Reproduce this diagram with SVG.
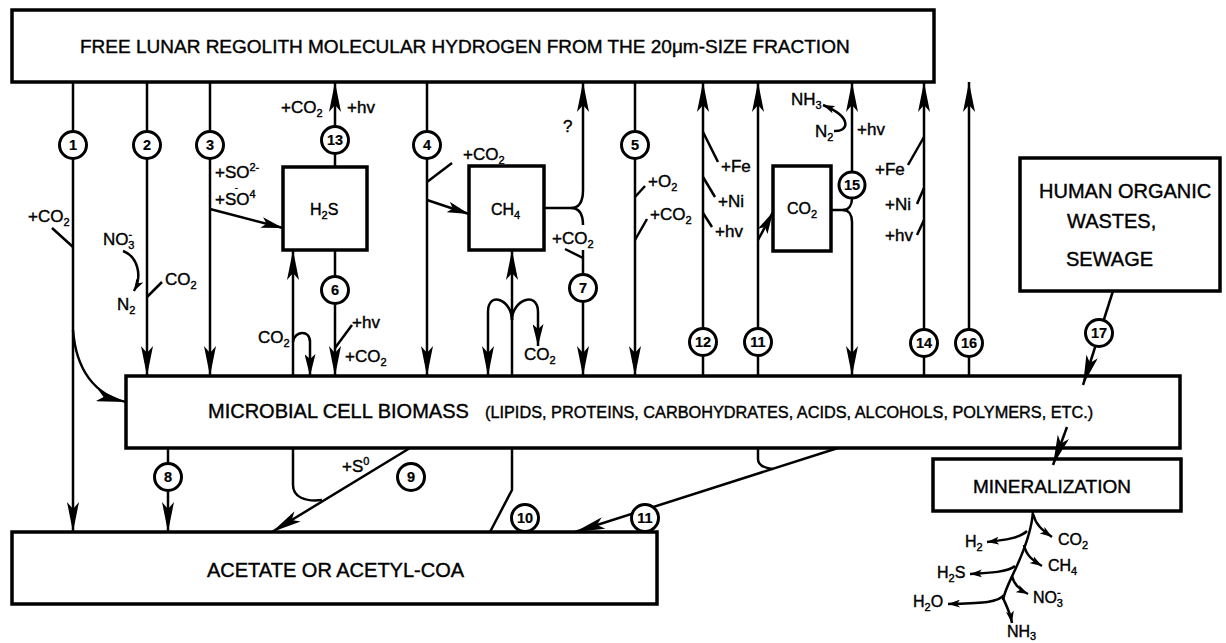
<svg xmlns="http://www.w3.org/2000/svg" width="1226" height="643" viewBox="0 0 1226 643">
<style>
text{font-family:"Liberation Sans",Arial,Helvetica,sans-serif;fill:#000;stroke:#000;stroke-width:0.4}
.box{fill:#fff;stroke:#000;stroke-width:3.5}
.ln{fill:none;stroke:#000;stroke-width:2.5}
.num circle{fill:#fff;stroke:#000;stroke-width:3}
.num text{font-size:14.5px;font-weight:bold;text-anchor:middle;dominant-baseline:central;stroke-width:0.2}
.lbl{font-size:17px}
.mlb{font-size:16px}
.big{font-size:20px}
.s{font-size:11px}
</style>
<defs>
<marker id="ah" viewBox="0 0 30 12" refX="30" refY="6" markerWidth="30" markerHeight="12" markerUnits="userSpaceOnUse" orient="auto"><path d="M0,0 L30,6 L0,12 L7,6 Z" fill="#000"/></marker>
<marker id="am" viewBox="0 0 22 11" refX="22" refY="5.5" markerWidth="22" markerHeight="11" markerUnits="userSpaceOnUse" orient="auto"><path d="M0,0 L22,5.5 L0,11 L5,5.5 Z" fill="#000"/></marker>
<marker id="as" viewBox="0 0 12 8" refX="12" refY="4" markerWidth="12" markerHeight="8" markerUnits="userSpaceOnUse" orient="auto"><path d="M0,0 L12,4 L0,8 L3,4 Z" fill="#000"/></marker>
</defs>

<g id="node-hydrogen"><rect class="box" x="12" y="10" width="922" height="72"/><text class="big" x="80" y="53" style="font-size:19px">FREE LUNAR REGOLITH MOLECULAR HYDROGEN FROM THE 20μm-SIZE FRACTION</text></g>
<g id="node-biomass"><rect class="box" x="126" y="376" width="1054" height="72"/><text class="big" x="208" y="418">MICROBIAL CELL BIOMASS</text><text x="485" y="418" style="font-size:16.3px">(LIPIDS, PROTEINS, CARBOHYDRATES, ACIDS, ALCOHOLS, POLYMERS, ETC.)</text></g>
<g id="node-acetate"><rect class="box" x="12" y="532" width="645" height="72"/><text class="big" x="207" y="577">ACETATE OR ACETYL-COA</text></g>
<g id="node-h2s"><rect class="box" x="283" y="167" width="84" height="83"/><text class="mlb" x="310" y="215">H<tspan class="s" dy="4">2</tspan><tspan dy="-4">S</tspan></text></g>
<g id="node-ch4"><rect class="box" x="469" y="166" width="75" height="84"/><text class="mlb" x="491" y="215">CH<tspan class="s" dy="4">4</tspan></text></g>
<g id="node-co2"><rect class="box" x="773" y="166" width="58" height="85"/><text class="mlb" x="787" y="214">CO<tspan class="s" dy="4">2</tspan></text></g>
<g id="node-wastes"><rect class="box" x="1020" y="158" width="200" height="133"/><text class="big" x="1039" y="198">HUMAN ORGANIC</text><text class="big" x="1067" y="228">WASTES,</text><text class="big" x="1066" y="266">SEWAGE</text></g>
<g id="node-mineralization"><rect class="box" x="933" y="459" width="248" height="52"/><text class="big" x="973" y="493" style="font-size:19px">MINERALIZATION</text></g>

<g id="connectors">
<path class="ln" d="M73,82 V532" marker-end="url(#ah)"/>
<path class="ln" d="M73,247 L52,228"/>
<path class="ln" d="M73,330 C76,370 95,395 126,402" marker-end="url(#ah)"/>
<path class="ln" d="M147,82 V376" marker-end="url(#ah)"/>
<path class="ln" d="M123,251 C137,256 143,275 134,291" marker-end="url(#as)"/>
<path class="ln" d="M147,297 L162,282"/>
<path class="ln" d="M210,82 V376" marker-end="url(#ah)"/>
<path class="ln" d="M210,209 L283,228" marker-end="url(#am)"/>
<path class="ln" d="M335,167 V82" marker-end="url(#ah)"/>
<path class="ln" d="M335,250 V376" marker-end="url(#ah)"/>
<path class="ln" d="M335,348 L352,325"/>
<path class="ln" d="M293,376 V250" marker-end="url(#ah)"/>
<path class="ln" d="M293,342 C294,331 310,329 310,342 V376" marker-end="url(#am)"/>
<path class="ln" d="M427,82 V376" marker-end="url(#ah)"/>
<path class="ln" d="M427,182 L452,163"/>
<path class="ln" d="M427,200 L469,214" marker-end="url(#am)"/>
<path class="ln" d="M544,208 H571 C580,208 583,201 583,190 V82" marker-end="url(#ah)"/>
<path class="ln" d="M571,208 C580,208 583,215 583,225"/>
<path class="ln" d="M583,250 V376" marker-end="url(#ah)"/>
<path class="ln" d="M583,258 L565,249"/>
<path class="ln" d="M512,376 V250" marker-end="url(#ah)"/>
<path class="ln" d="M512,320 C512,300 488,290 488,312 V376" marker-end="url(#ah)"/>
<path class="ln" d="M512,320 C512,300 538,290 538,312 V346" marker-end="url(#am)"/>
<path class="ln" d="M635,82 V376" marker-end="url(#ah)"/>
<path class="ln" d="M635,197 L645,186"/>
<path class="ln" d="M635,240 L647,219"/>
<path class="ln" d="M703,376 V82" marker-end="url(#ah)"/>
<path class="ln" d="M703,132 L718,162"/>
<path class="ln" d="M703,177 L715,197"/>
<path class="ln" d="M703,213 L712,227"/>
<path class="ln" d="M758,376 V82" marker-end="url(#ah)"/>
<path class="ln" d="M758,240 L773,212" marker-end="url(#am)"/>
<path class="ln" d="M831,210 H843 C849,210 852,205 852,198"/>
<path class="ln" d="M843,210 C849,210 852,215 852,222 V376" marker-end="url(#ah)"/>
<path class="ln" d="M852,171 V82" marker-end="url(#ah)"/>
<path class="ln" d="M834,131 C848,132 854,118 823,105" marker-end="url(#as)"/>
<path class="ln" d="M924,376 V82" marker-end="url(#ah)"/>
<path class="ln" d="M924,137 L908,165"/>
<path class="ln" d="M924,188 L917,204"/>
<path class="ln" d="M924,220 L917,235"/>
<path class="ln" d="M969,376 V82" marker-end="url(#ah)"/>
<path class="ln" d="M1113,291 L1083,385" marker-end="url(#ah)"/>
<path class="ln" d="M1067,427 L1053,465" marker-end="url(#ah)"/>
<path class="ln" d="M168,448 V532" marker-end="url(#ah)"/>
<path class="ln" d="M410,448 L272,532" marker-end="url(#ah)"/>
<path class="ln" d="M293,448 V485 C293,497 305,502 322,500"/>
<path class="ln" d="M512,448 V490 L490,532"/>
<path class="ln" d="M838,448 L575,532" marker-end="url(#ah)"/>
<path class="ln" d="M758,448 V459 C758,465 764,468 773,469"/>
<path class="ln" d="M1033,511 C1032,530 1022,555 1015,570 S1005,590 1003,600"/>
<path class="ln" d="M1033,514 C1036,525 1042,530 1052,537" marker-end="url(#as)"/>
<path class="ln" d="M1027,531 C1020,538 1005,540 987,542" marker-end="url(#as)"/>
<path class="ln" d="M1024,545 C1026,555 1032,560 1042,566" marker-end="url(#as)"/>
<path class="ln" d="M1015,566 C1008,572 990,573 970,574" marker-end="url(#as)"/>
<path class="ln" d="M1012,576 C1014,585 1020,590 1028,594" marker-end="url(#as)"/>
<path class="ln" d="M1004,595 C998,603 980,603 948,604" marker-end="url(#as)"/>
<path class="ln" d="M1003,598 C1006,605 1010,612 1012,623" marker-end="url(#as)"/>
</g>

<g id="connector-labels" class="lbl">
<text x="28" y="222">+CO<tspan class="s" dy="4">2</tspan></text>
<text x="103" y="245">NO<tspan class="s" dy="-7">-</tspan><tspan class="s" dx="-4" dy="11">3</tspan></text>
<text x="117" y="310">N<tspan class="s" dy="4">2</tspan></text>
<text x="165" y="285">CO<tspan class="s" dy="4">2</tspan></text>
<text x="215" y="178">+SO<tspan class="s" dy="-7">2-</tspan></text>
<text x="215" y="205"><tspan x="235" dy="-15" style="font-size:8px">-</tspan><tspan x="215" dy="15">+SO</tspan><tspan class="s" dy="-7">4</tspan></text>
<text x="281" y="113">+CO<tspan class="s" dy="4">2</tspan></text>
<text x="347" y="113">+hv</text>
<text x="258" y="343">CO<tspan class="s" dy="4">2</tspan></text>
<text x="352" y="328">+hv</text>
<text x="345" y="362">+CO<tspan class="s" dy="4">2</tspan></text>
<text x="463" y="160">+CO<tspan class="s" dy="4">2</tspan></text>
<text x="563" y="132">?</text>
<text x="552" y="244">+CO<tspan class="s" dy="4">2</tspan></text>
<text x="524" y="360">CO<tspan class="s" dy="4">2</tspan></text>
<text x="648" y="187">+O<tspan class="s" dy="4">2</tspan></text>
<text x="650" y="220">+CO<tspan class="s" dy="4">2</tspan></text>
<text x="721" y="172">+Fe</text>
<text x="718" y="207">+Ni</text>
<text x="715" y="237">+hv</text>
<text x="791" y="105">NH<tspan class="s" dy="4">3</tspan></text>
<text x="815" y="137">N<tspan class="s" dy="4">2</tspan></text>
<text x="857" y="135">+hv</text>
<text x="875" y="175">+Fe</text>
<text x="885" y="210">+Ni</text>
<text x="885" y="241">+hv</text>
<text x="342" y="472">+S<tspan class="s" dy="-7">0</tspan></text>
<g class="mlb">
<text x="965" y="547">H<tspan class="s" dy="4">2</tspan></text>
<text x="1058" y="545">CO<tspan class="s" dy="4">2</tspan></text>
<text x="1048" y="571">CH<tspan class="s" dy="4">4</tspan></text>
<text x="937" y="578">H<tspan class="s" dy="4">2</tspan><tspan dy="-4">S</tspan></text>
<text x="1033" y="603">NO<tspan class="s" dy="-7">-</tspan><tspan class="s" dx="-4" dy="11">3</tspan></text>
<text x="913" y="607">H<tspan class="s" dy="4">2</tspan><tspan dy="-4">O</tspan></text>
<text x="1007" y="637">NH<tspan class="s" dy="3">3</tspan></text>
</g>
</g>

<g id="step-numbers" class="num">
<g id="step-1"><circle cx="73" cy="145" r="13.5"/><text x="73" y="145">1</text></g>
<g id="step-2"><circle cx="147" cy="145" r="13.5"/><text x="147" y="145">2</text></g>
<g id="step-3"><circle cx="210" cy="145" r="13.5"/><text x="210" y="145">3</text></g>
<g id="step-13"><circle cx="335" cy="140" r="13.5"/><text x="335" y="140">13</text></g>
<g id="step-4"><circle cx="427" cy="145" r="13.5"/><text x="427" y="145">4</text></g>
<g id="step-5"><circle cx="635" cy="145" r="13.5"/><text x="635" y="145">5</text></g>
<g id="step-6"><circle cx="335" cy="290" r="13.5"/><text x="335" y="290">6</text></g>
<g id="step-7"><circle cx="583" cy="288" r="13.5"/><text x="583" y="288">7</text></g>
<g id="step-12"><circle cx="703" cy="342" r="13.5"/><text x="703" y="342">12</text></g>
<g id="step-11a"><circle cx="758" cy="342" r="13.5"/><text x="758" y="342">11</text></g>
<g id="step-15"><circle cx="852" cy="185" r="13"/><text x="852" y="185">15</text></g>
<g id="step-14"><circle cx="924" cy="343" r="13.5"/><text x="924" y="343">14</text></g>
<g id="step-16"><circle cx="969" cy="343" r="13.5"/><text x="969" y="343">16</text></g>
<g id="step-17"><circle cx="1099" cy="333" r="13.5"/><text x="1099" y="333">17</text></g>
<g id="step-8"><circle cx="168" cy="477" r="13.5"/><text x="168" y="477">8</text></g>
<g id="step-9"><circle cx="411" cy="477" r="13.5"/><text x="411" y="477">9</text></g>
<g id="step-10"><circle cx="525" cy="518" r="13.5"/><text x="525" y="518">10</text></g>
<g id="step-11b"><circle cx="645" cy="518" r="13.5"/><text x="645" y="518">11</text></g>
</g>
</svg>
